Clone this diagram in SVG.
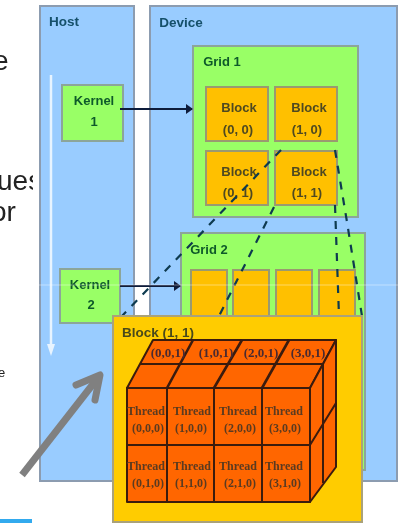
<svg xmlns="http://www.w3.org/2000/svg" width="401" height="523" viewBox="0 0 401 523">
<style>
.pane{fill:#99ccff;stroke:#8c9cb0;stroke-width:2}
.grid{fill:#99ff66;stroke:#8ca59a;stroke-width:2}
.block{fill:#ffc000;stroke:#9a9a70;stroke-width:2}
.big{font-family:"Liberation Sans",Arial,sans-serif;fill:#222}
.lbl{font-family:"Liberation Sans",Arial,sans-serif;font-weight:bold;font-size:13px;text-anchor:middle}
.g{fill:#0f5a2a}
.b{fill:#4f4a20}
.h{fill:#14506a;font-size:13.5px}
.th{font-family:"Liberation Serif",serif;font-size:12px;font-weight:bold;text-anchor:middle;fill:#5a3a20}
.top{font-size:13px;fill:#4a2a30}
.cube{fill:#ff6600;stroke:#3a1a10;stroke-width:2;stroke-linejoin:round}
.dash{fill:none;stroke:#0f3a50;stroke-width:2.2;stroke-dasharray:8 8}
.conn{fill:none;stroke:#111a3a;stroke-width:2}
</style>
<defs>
<marker id="ah" markerWidth="8" markerHeight="10" refX="6" refY="5" orient="auto" markerUnits="userSpaceOnUse"><path d="M0 0L7 5L0 10Z" fill="#111a3a"/></marker>
<filter id="soft" x="-5%" y="-5%" width="110%" height="110%"><feGaussianBlur stdDeviation="0.45"/></filter>
</defs>
<rect width="401" height="523" fill="#fff"/>
<g filter="url(#soft)">
<g id="slide-text">
<text class="big" x="-7" y="70" font-size="28">e</text>
<text class="big" x="-3" y="190" font-size="28">ues</text>
<text class="big" x="-9" y="221" font-size="28">or</text>
<text class="big" x="-2" y="377" font-size="13">e</text>
<rect x="33" y="160" width="8" height="70" fill="#fff"/>
<rect x="0" y="519" width="32" height="4" fill="#33aaee"/>
</g>
<g id="host"><rect class="pane" x="40" y="6" width="94" height="475"/><text class="lbl h" x="64" y="26">Host</text></g>
<g id="device"><rect class="pane" x="150" y="6" width="247" height="475"/><text class="lbl h" x="181" y="27">Device</text></g>
<path d="M51 75V350" stroke="#e8f4ff" stroke-width="2.5" fill="none"/>
<path d="M47 344H55L51 356Z" fill="#e8f4ff"/>
<g id="grid1"><rect class="grid" x="193" y="46" width="165" height="171"/><text class="lbl g" x="222" y="66">Grid 1</text></g>
<g id="grid2"><rect class="grid" x="181" y="233" width="184" height="237"/><text class="lbl g" x="209" y="254">Grid 2</text></g>
<g id="kernel1"><rect class="grid" x="62" y="85" width="61" height="56"/><text class="lbl g" x="94" y="105">Kernel</text><text class="lbl g" x="94" y="126">1</text></g>
<g id="kernel2"><rect class="grid" x="60" y="269" width="60" height="54"/><text class="lbl g" x="90" y="289">Kernel</text><text class="lbl g" x="91" y="309">2</text></g>
<g id="block00"><rect class="block" x="206" y="87" width="62" height="54"/><text class="lbl b" x="239" y="112">Block</text><text class="lbl b" x="238" y="134">(0, 0)</text></g>
<g id="block10"><rect class="block" x="275" y="87" width="62" height="54"/><text class="lbl b" x="309" y="112">Block</text><text class="lbl b" x="307" y="134">(1, 0)</text></g>
<g id="block01"><rect class="block" x="206" y="151" width="62" height="54"/><text class="lbl b" x="239" y="176">Block</text><text class="lbl b" x="238" y="197">(0, 1)</text></g>
<g id="block11"><rect class="block" x="275" y="151" width="62" height="54"/><text class="lbl b" x="309" y="176">Block</text><text class="lbl b" x="307" y="197">(1, 1)</text></g>
<g id="grid2-blocks">
<rect class="block" x="191" y="270" width="36" height="50"/>
<rect class="block" x="233" y="270" width="36" height="50"/>
<rect class="block" x="276" y="270" width="36" height="50"/>
<rect class="block" x="319" y="270" width="36" height="50"/>
</g>
<g id="connectors">
<path class="conn" d="M120 109H192" marker-end="url(#ah)"/>
<path class="conn" d="M120 286H180" marker-end="url(#ah)"/>
<path class="dash" d="M281 150L122 316"/>
<path class="dash" d="M274 207L219 316"/>
<path class="dash" d="M335 150L347 222L362 316"/>
<path class="dash" d="M335 205L339 316"/>
</g>
<line x1="0" y1="285" x2="401" y2="285" stroke="#fff" stroke-opacity=".4"/>
<g id="block-detail">
<rect x="113" y="316" width="249" height="206" fill="#ffcc00" stroke="#aaa27a" stroke-width="2"/>
<text class="lbl" x="158" y="337" style="fill:#4a4a1a;font-size:13.5px">Block (1, 1)</text>
<g id="cube">
<path class="cube" d="M127 388L153 340H336L310 388Z"/>
<path class="cube" d="M310 388L336 340V467L310 502Z"/>
<rect class="cube" x="127" y="388" width="183" height="114"/>
<path class="cube" style="fill:none" d="M127 445H310L336 403M140 364H323V483M167 388V502M214 388V502M262 388V502"/>
<path class="cube" style="fill:none;stroke-width:2.6" d="M167 388L193 340M214 388L242 340M262 388L289 340"/>
</g>
<g>
<text class="th top" x="168" y="357">(0,0,1)</text><text class="th top" x="216" y="357">(1,0,1)</text><text class="th top" x="261" y="357">(2,0,1)</text><text class="th top" x="308" y="357">(3,0,1)</text>
<text class="th" x="146" y="415">Thread</text><text class="th" x="148" y="432">(0,0,0)</text>
<text class="th" x="192" y="415">Thread</text><text class="th" x="191" y="432">(1,0,0)</text>
<text class="th" x="238" y="415">Thread</text><text class="th" x="240" y="432">(2,0,0)</text>
<text class="th" x="284" y="415">Thread</text><text class="th" x="285" y="432">(3,0,0)</text>
<text class="th" x="146" y="470">Thread</text><text class="th" x="148" y="487">(0,1,0)</text>
<text class="th" x="192" y="470">Thread</text><text class="th" x="191" y="487">(1,1,0)</text>
<text class="th" x="238" y="470">Thread</text><text class="th" x="240" y="487">(2,1,0)</text>
<text class="th" x="284" y="470">Thread</text><text class="th" x="285" y="487">(3,1,0)</text>
</g>
</g>
<path d="M22 475L97 379" fill="none" stroke="#808080" stroke-width="7"/>
<path d="M76 385L100 375L95 400" fill="none" stroke="#808080" stroke-width="7" stroke-linejoin="round" stroke-linecap="round"/>
</g>
</svg>
